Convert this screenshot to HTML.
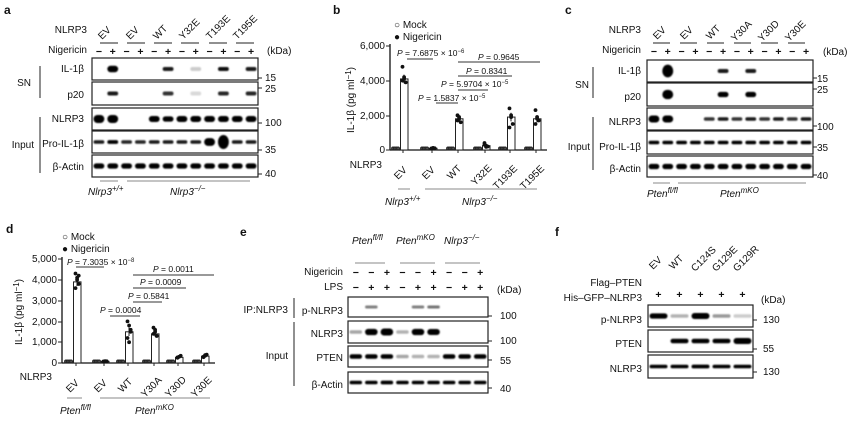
<!DOCTYPE html>
<html><head><meta charset="utf-8"><style>
html,body{margin:0;padding:0;background:#fff}
svg{display:block;font-family:"Liberation Sans",Arial,sans-serif;font-size:10px;fill:#111}
.b{font-weight:bold;font-size:12px}
.i{font-style:italic}
.r{text-anchor:end}
.m{text-anchor:middle}
.s{font-size:8px}
</style></head><body>
<svg id="s" width="855" height="431" viewBox="0 0 855 431" xmlns="http://www.w3.org/2000/svg">
<defs><filter id="bl" x="-50%" y="-100%" width="200%" height="300%"><feGaussianBlur stdDeviation="0.9"/></filter></defs>
<g id="bands" filter="url(#bl)"></g>
<g id="shapes" stroke="#222" fill="none" stroke-width="1"></g>

<!-- Panel a -->
<text x="4" y="14" class="b">a</text>
<text x="87" y="33" class="r">NLRP3</text>
<text x="87" y="53" class="r">Nigericin</text>
<g transform="translate(102,40) rotate(-45)"><text>EV</text></g>
<g transform="translate(130,40) rotate(-45)"><text>EV</text></g>
<g transform="translate(157,40) rotate(-45)"><text>WT</text></g>
<g transform="translate(183,40) rotate(-45)"><text>Y32E</text></g>
<g transform="translate(210,40) rotate(-45)"><text>T193E</text></g>
<g transform="translate(237,40) rotate(-45)"><text>T195E</text></g>
<text x="267" y="54">(kDa)</text>
<text x="84" y="72" class="r">IL-1β</text>
<text x="84" y="98" class="r">p20</text>
<text x="84" y="122" class="r">NLRP3</text>
<text x="84" y="147" class="r">Pro-IL-1β</text>
<text x="84" y="170" class="r">β-Actin</text>
<text x="31" y="86" class="r">SN</text>
<text x="34" y="148" class="r">Input</text>
<text x="265" y="81">15</text><text x="265" y="92">25</text><text x="265" y="126">100</text><text x="265" y="153">35</text><text x="265" y="177">40</text>
<text x="88" y="195" class="i">Nlrp3<tspan dy="-4" class="s">+/+</tspan></text>
<text x="170" y="195" class="i">Nlrp3<tspan dy="-4" class="s">−/−</tspan></text>

<!-- Panel b -->
<text x="333" y="14" class="b">b</text>
<text x="394" y="28">○ Mock</text>
<text x="394" y="40">● Nigericin</text>
<text x="385" y="49" class="r">6,000</text>
<text x="385" y="84" class="r">4,000</text>
<text x="385" y="119" class="r">2,000</text>
<text x="385" y="153" class="r">0</text>
<g transform="translate(354,100) rotate(-90)"><text class="m">IL-1β (pg ml<tspan dy="-3" class="s">−1</tspan><tspan dy="3">)</tspan></text></g>
<text x="382" y="168" class="r">NLRP3</text>
<g transform="translate(398,180) rotate(-45)"><text>EV</text></g>
<g transform="translate(426,180) rotate(-45)"><text>EV</text></g>
<g transform="translate(451,180) rotate(-45)"><text>WT</text></g>
<g transform="translate(475,186) rotate(-45)"><text>Y32E</text></g>
<g transform="translate(497,190) rotate(-45)"><text>T193E</text></g>
<g transform="translate(524,190) rotate(-45)"><text>T195E</text></g>
<text x="385" y="205" class="i">Nlrp3<tspan dy="-4" class="s">+/+</tspan></text>
<text x="462" y="205" class="i">Nlrp3<tspan dy="-4" class="s">−/−</tspan></text>
<g font-size="8.5"><text x="397" y="56"><tspan class="i">P</tspan> = 7.6875 × 10<tspan dy="-3" font-size="6">−6</tspan></text>
<text x="478" y="60"><tspan class="i">P</tspan> = 0.9645</text>
<text x="466" y="74"><tspan class="i">P</tspan> = 0.8341</text>
<text x="441" y="87"><tspan class="i">P</tspan> = 5.9704 × 10<tspan dy="-3" font-size="6">−5</tspan></text>
<text x="418" y="101"><tspan class="i">P</tspan> = 1.5837 × 10<tspan dy="-3" font-size="6">−5</tspan></text></g>

<!-- Panel c -->
<text x="565" y="14" class="b">c</text>
<text x="641" y="33" class="r">NLRP3</text>
<text x="641" y="53" class="r">Nigericin</text>
<g transform="translate(657,40) rotate(-45)"><text>EV</text></g>
<g transform="translate(684,40) rotate(-45)"><text>EV</text></g>
<g transform="translate(710,40) rotate(-45)"><text>WT</text></g>
<g transform="translate(735,42) rotate(-45)"><text>Y30A</text></g>
<g transform="translate(762,42) rotate(-45)"><text>Y30D</text></g>
<g transform="translate(789,42) rotate(-45)"><text>Y30E</text></g>
<text x="823" y="55">(kDa)</text>
<text x="641" y="74" class="r">IL-1β</text>
<text x="641" y="100" class="r">p20</text>
<text x="641" y="125" class="r">NLRP3</text>
<text x="641" y="150" class="r">Pro-IL-1β</text>
<text x="641" y="172" class="r">β-Actin</text>
<text x="589" y="88" class="r">SN</text>
<text x="590" y="150" class="r">Input</text>
<text x="817" y="82">15</text><text x="817" y="93">25</text><text x="817" y="130">100</text><text x="817" y="151">35</text><text x="817" y="179">40</text>
<text x="647" y="197" class="i">Pten<tspan dy="-4" class="s">fl/fl</tspan></text>
<text x="720" y="197" class="i">Pten<tspan dy="-4" class="s">mKO</tspan></text>

<!-- Panel d -->
<text x="6" y="233" class="b">d</text>
<text x="62" y="240">○ Mock</text>
<text x="62" y="252">● Nigericin</text>
<text x="57" y="262" class="r">5,000</text>
<text x="57" y="283" class="r">4,000</text>
<text x="57" y="304" class="r">3,000</text>
<text x="57" y="325" class="r">2,000</text>
<text x="57" y="345" class="r">1,000</text>
<text x="57" y="366" class="r">0</text>
<g transform="translate(22,312) rotate(-90)"><text class="m">IL-1β (pg ml<tspan dy="-3" class="s">−1</tspan><tspan dy="3">)</tspan></text></g>
<text x="52" y="380" class="r">NLRP3</text>
<g transform="translate(70,393) rotate(-45)"><text>EV</text></g>
<g transform="translate(98,393) rotate(-45)"><text>EV</text></g>
<g transform="translate(122,393) rotate(-45)"><text>WT</text></g>
<g transform="translate(145,398) rotate(-45)"><text>Y30A</text></g>
<g transform="translate(169,398) rotate(-45)"><text>Y30D</text></g>
<g transform="translate(195,398) rotate(-45)"><text>Y30E</text></g>
<text x="60" y="414" class="i">Pten<tspan dy="-4" class="s">fl/fl</tspan></text>
<text x="135" y="414" class="i">Pten<tspan dy="-4" class="s">mKO</tspan></text>
<g font-size="8.5"><text x="67" y="265"><tspan class="i">P</tspan> = 7.3035 × 10<tspan dy="-3" font-size="6">−8</tspan></text>
<text x="153" y="272"><tspan class="i">P</tspan> = 0.0011</text>
<text x="140" y="285"><tspan class="i">P</tspan> = 0.0009</text>
<text x="128" y="299"><tspan class="i">P</tspan> = 0.5841</text>
<text x="100" y="313"><tspan class="i">P</tspan> = 0.0004</text></g>

<!-- Panel e -->
<text x="240" y="236" class="b">e</text>
<text x="352" y="244" class="i">Pten<tspan dy="-4" class="s">fl/fl</tspan></text>
<text x="396" y="244" class="i">Pten<tspan dy="-4" class="s">mKO</tspan></text>
<text x="444" y="244" class="i">Nlrp3<tspan dy="-4" class="s">−/−</tspan></text>
<text x="343" y="275" class="r">Nigericin</text>
<text x="343" y="290" class="r">LPS</text>
<text x="497" y="293">(kDa)</text>
<text x="343" y="314" class="r">p-NLRP3</text>
<text x="343" y="337" class="r">NLRP3</text>
<text x="343" y="361" class="r">PTEN</text>
<text x="343" y="388" class="r">β-Actin</text>
<text x="288" y="313" class="r">IP:NLRP3</text>
<text x="288" y="359" class="r">Input</text>
<text x="500" y="319">100</text><text x="500" y="344">100</text><text x="500" y="364">55</text><text x="500" y="392">40</text>

<!-- Panel f -->
<text x="555" y="236" class="b">f</text>
<g transform="translate(653,270) rotate(-45)"><text>EV</text></g>
<g transform="translate(673,270) rotate(-45)"><text>WT</text></g>
<g transform="translate(695,272) rotate(-45)"><text>C124S</text></g>
<g transform="translate(716,272) rotate(-45)"><text>G129E</text></g>
<g transform="translate(737,272) rotate(-45)"><text>G129R</text></g>
<text x="642" y="286" class="r">Flag–PTEN</text>
<text x="642" y="301" class="r">His–GFP–NLRP3</text>
<text x="761" y="303">(kDa)</text>
<text x="642" y="323" class="r">p-NLRP3</text>
<text x="642" y="347" class="r">PTEN</text>
<text x="642" y="372" class="r">NLRP3</text>
<text x="763" y="323">130</text><text x="763" y="352">55</text><text x="763" y="375">130</text>
<g id="signs" font-size="10.5" font-weight="bold"></g>
</svg>
<script>
var NS="http://www.w3.org/2000/svg";
function el(p,t,a){var e=document.createElementNS(NS,t);for(var k in a)e.setAttribute(k,a[k]);document.getElementById(p).appendChild(e);return e;}
function line(x1,y1,x2,y2,c,w){el("shapes","line",{x1:x1,y1:y1,x2:x2,y2:y2,stroke:c||"#222","stroke-width":w||1});}
function box(x0,x1,y0,y1){el("shapes","rect",{x:x0,y:y0,width:x1-x0,height:y1-y0,"stroke-width":1.2});}
function bands(x0,x1,y0,y1,vals,th){var n=vals.length,w=(x1-x0)/n;for(var i=0;i<n;i++){var v=vals[i];if(!v)continue;var h=th*(v>1?v:1);var cy=(y0+y1)/2;el("bands","rect",{x:x0+i*w+1.5,y:cy-h/2,width:w-3,height:h,rx:h/2,fill:"#000","fill-opacity":Math.min(v,1)});}}
function signs(x0,x1,y,arr){var n=arr.length,w=(x1-x0)/n;for(var i=0;i<n;i++){var t=el("signs","text",{x:x0+(i+.5)*w,y:y,"text-anchor":"middle"});t.textContent=arr[i];}}
function tick(x,y,w){line(x,y,x+(w||4),y);}
var ax0=92,ax1=258;var pm=["−","+","−","+","−","+","−","+","−","+","−","+"];
signs(ax0,ax1,55,pm);
[[100,118],[127,145],[154,172],[181,199],[209,227],[236,254]].forEach(function(p){line(p[0],43,p[1],43);});
box(ax0,ax1,58,80);box(ax0,ax1,82,105);box(ax0,ax1,108,130);box(ax0,ax1,131,153);box(ax0,ax1,155,177);
bands(ax0,ax1,58,80,[0,1.6,0,0,0,.9,0,.2,0,.95,0,.9],4);
bands(ax0,ax1,82,105,[0,.9,0,0,0,.8,0,.15,0,.85,0,.85],4);
bands(ax0,ax1,108,130,[2,2,0,0,1.5,1.3,1.5,1.5,1.5,1.5,1.5,1.5],4);
bands(ax0,ax1,131,153,[.9,1.1,.85,.85,.9,.9,.9,.9,2.2,4,.9,.9],3.5);
bands(ax0,ax1,155,177,[1.3,1.3,1.3,1.3,1.3,1.3,1.3,1.3,1.3,1.3,1.3,1.3],4);
tick(258,78);tick(258,88);tick(258,123);tick(258,150);tick(258,174);
line(40,66,40,98);line(40,117,40,173);line(100,181,118,181,"#888");line(127,181,250,181,"#888");
function chart(xa,ya0,ya1,xe,scale,groups,pl){line(xa,ya0,xa,ya1,"#111",1.3);line(xa,ya1,xe,ya1,"#111",1.3);
 groups.forEach(function(g){var cx=g[0];
  var mh=g[1]*scale;el("shapes","rect",{x:cx-11,y:ya1-mh,width:7,height:mh,fill:"#fff"});
  for(var k=0;k<4;k++)el("shapes","circle",{cx:cx-10+k*1.7,cy:ya1-mh-0.5,r:1.4,fill:"#555"});
  var h=g[2]*scale;el("shapes","rect",{x:cx-2.5,y:ya1-h,width:7.5,height:h,fill:"#fff","stroke-width":1});
  line(cx+1,ya1-h-g[3]*scale,cx+1,ya1-h+g[3]*scale);
  g[4].forEach(function(v,k){el("shapes","circle",{cx:cx-0.5+(k%3)*1.6,cy:ya1-v*scale,r:1.9,fill:"#111",stroke:"none"});});
  line(cx,ya1,cx,ya1+3);});
 pl.forEach(function(p){line(p[0],p[2],p[1],p[2],"#333",1);});}
var sb=104/6000;
chart(390,44,150,547,sb,[[403,60,4100,250,[4800,4200,3900,4000,4100]],[432,60,100,30,[80,120,100,90]],[458,60,1800,150,[2000,1900,1600,1700,1800]],[485,60,250,60,[400,250,200,300,180]],[510,60,1900,250,[2400,1900,1500,1300,2000]],[536,60,1800,200,[2300,1900,1700,1500,1800]]],
 [[407,433,59],[458,540,62],[458,512,76],[458,488,90],[436,458,103]]);
[[46],[81],[116],[150]].forEach(function(y){line(386,y[0],390,y[0]);});
line(398,189,410,189,"#888");line(425,189,537,189,"#888");
var cx0=647,cx1=813;
signs(cx0,cx1,55,pm);
[[653,670],[680,697],[707,724],[734,751],[761,778],[788,805]].forEach(function(p){line(p[0],43,p[1],43);});
box(cx0,cx1,60,82);box(cx0,cx1,83,106);box(cx0,cx1,108,130);box(cx0,cx1,131,154);box(cx0,cx1,156,177);
bands(cx0,cx1,60,82,[0,3.2,0,0,0,.9,0,.9,0,0,0,0],4);
bands(cx0,cx1,83,106,[0,2.3,0,0,0,1.3,0,1.3,0,0,0,0],4);
bands(cx0,cx1,108,130,[2,2,0,0,.8,.9,.8,.9,.8,.9,.8,.9],3.5);
bands(cx0,cx1,131,154,[1,1,1,1,1,1,1,1,1,1,1,1],3.5);
bands(cx0,cx1,156,177,[1.3,1.3,1.3,1.3,1.3,1.3,1.3,1.3,1.3,1.3,1.3,1.3],4);
tick(813,78);tick(813,89);tick(813,126);tick(813,147);tick(813,175);
line(593,67,593,98);line(593,117,593,170);line(653,183,670,183,"#888");line(678,183,806,183,"#888");
var sd=104/5000;
chart(62,257,363,215,sd,[[76,50,3900,200,[4300,4100,3800,3600,4000,4200]],[104,50,80,20,[70,90,80,70]],[128,50,1500,200,[2000,1800,1500,1200,1000,1600]],[154,50,1400,120,[1700,1500,1300,1400,1600]],[178,50,270,40,[250,300,350,270]],[204,50,330,40,[300,350,400,280,380]]],
 [[76,104,267],[133,214,275],[133,186,288],[133,162,302],[110,140,316]]);
[259,280,301,322,342,363].forEach(function(y){line(58,y,62,y);});
line(67,398,82,398,"#888");line(100,398,210,398,"#888");
var ex0=348,ex1=488;
line(355,263,385,263,"#888");line(400,263,435,263,"#888");line(445,263,480,263,"#888");
signs(ex0,ex1,276,["−","−","+","−","−","+","−","−","+"]);
signs(ex0,ex1,291,["−","+","+","−","+","+","−","+","+"]);
box(ex0,ex1,297,317);box(ex0,ex1,321,343);box(ex0,ex1,346,367);box(ex0,ex1,372,393);
bands(ex0,ex1,297,317,[0,.5,0,0,.5,.55,0,0,0],3);
bands(ex0,ex1,321,343,[.35,1.8,2,.3,1.8,1.7,0,0,0],3.5);
bands(ex0,ex1,346,367,[1.3,1.3,1.3,.35,.3,.3,1.3,1.3,1.3],3.5);
bands(ex0,ex1,372,393,[1,1,1.1,1,1,1,1,1,1],3.5);
tick(488,316);tick(488,341);tick(488,360);tick(488,388);
line(294,298,294,318);line(294,322,294,386);
var fx0=648,fx1=753;
signs(fx0,fx1,298,["+","+","+","+","+"]);
box(fx0,fx1,305,327);box(fx0,fx1,330,352);box(fx0,fx1,355,378);
bands(fx0,fx1,305,327,[1.5,.3,1.7,.4,.2],3.5);
bands(fx0,fx1,330,352,[0,1.3,1.3,1.3,1.7],3.5);
bands(fx0,fx1,355,378,[1,1,1.1,1,1],3.5);
tick(753,320);tick(753,349);tick(753,372);
</script>
</body></html>
